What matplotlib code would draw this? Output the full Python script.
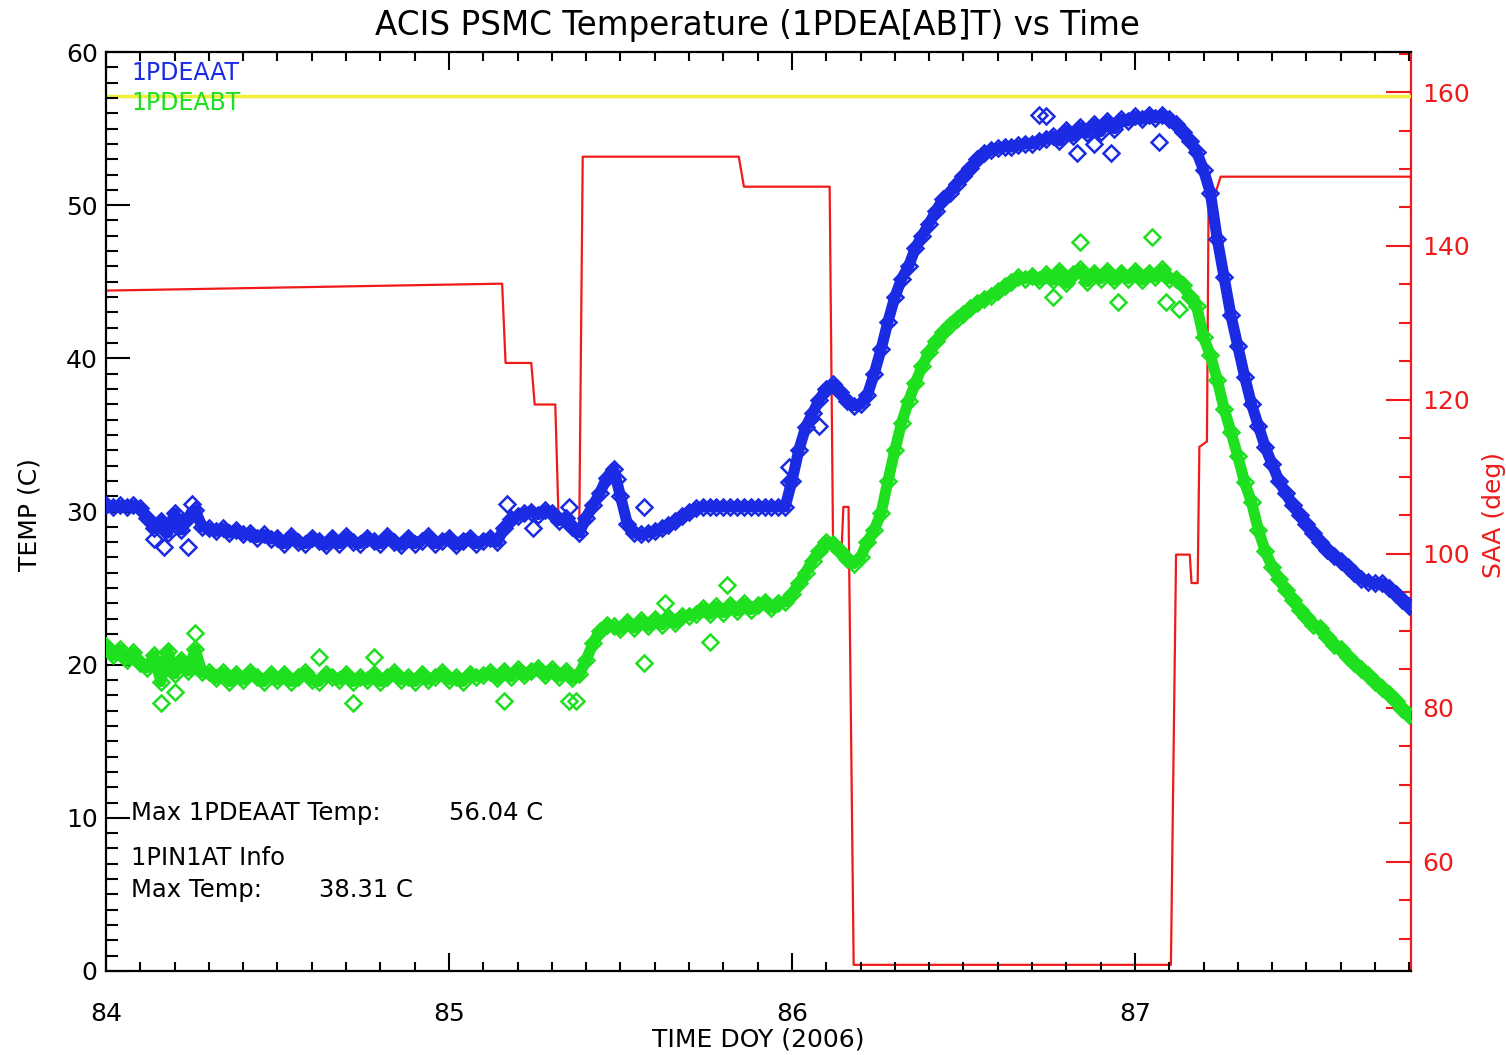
import numpy as np
import matplotlib
matplotlib.use('Agg')
import matplotlib.pyplot as plt
from matplotlib.ticker import MultipleLocator

# sample times (DOY 2006), every 0.02 day
doy = np.round(np.arange(84.0, 87.801, 0.02), 2)

# 1PDEAAT temperature (C)
pdeaat = [
    30.4, 30.3, 30.4, 30.3, 30.4, 30.2,                              # 84.00
    29.6, 28.9, 29.4, 28.6, 29.9, 28.8, 29.6, 30.1, 29.0,            # 84.12
    28.9, 28.7, 28.9, 28.6, 28.8, 28.5, 28.6, 28.3, 28.5, 28.2,      # 84.30
    28.3, 27.9, 28.4, 28.0, 27.9, 28.3, 28.1, 27.8, 28.3, 27.9,      # 84.50
    28.4, 28.0, 27.9, 28.3, 28.1, 27.9, 28.4, 28.0, 27.8, 28.3,
    27.9, 28.1, 28.4, 27.9, 28.1, 28.3, 27.8, 28.1, 28.3, 27.9,
    28.1, 28.3, 28.0,
    28.9, 29.5, 29.7, 29.9, 30.0, 29.8, 30.1, 29.9,                  # 85.16
    29.4, 29.6, 29.0, 28.6,                                          # 85.32
    29.6, 30.4, 31.2, 32.2, 32.8,                                    # 85.40
    31.0, 29.2, 28.6,                                                # 85.50
    28.5, 28.6, 28.7, 28.9, 29.1, 29.4, 29.7, 30.0, 30.2,            # 85.56
    30.3, 30.3, 30.3, 30.3, 30.3, 30.3, 30.3, 30.3, 30.3, 30.3,      # 85.74
    30.3, 30.3, 30.3,
    32.0, 34.0, 35.5, 36.4, 37.3, 38.0, 38.3, 37.8,                  # 86.00
    37.2, 36.9, 37.0, 37.6,                                          # 86.16
    39.0, 40.6, 42.4, 44.0, 45.2, 46.0, 47.2, 48.0, 48.8,            # 86.24
    49.6, 50.4, 50.8, 51.4, 51.9, 52.4, 53.0, 53.4,                  # 86.42
    53.6, 53.7, 53.8, 53.8, 53.9, 54.0, 54.0, 54.2, 54.3,            # 86.58
    54.5, 54.2, 54.9, 54.5, 55.1, 54.7, 55.3, 54.8, 55.5, 55.0,      # 86.76
    55.6, 55.5,
    55.8, 55.6, 55.9, 55.7, 55.9, 55.6,                              # 87.00
    55.3, 54.8, 54.2, 53.5, 52.3, 50.8, 47.8, 45.3,                  # 87.12
    42.8, 40.8, 38.8, 37.0, 35.6, 34.2, 33.1,                        # 87.28
    32.0, 31.2, 30.4, 29.8, 29.2, 28.6, 28.0, 27.5, 27.1,            # 87.42
    26.8, 26.4, 26.0, 25.6, 25.4, 25.3, 25.3, 25.0, 24.6, 24.2,      # 87.60
    23.8,
]

# 1PDEABT temperature (C)
pdeabt = [
    21.2, 20.6, 21.0, 20.3, 20.8, 20.1,                              # 84.00
    19.8, 20.6, 18.9, 20.9, 19.4, 20.3, 19.6, 21.0, 19.5,            # 84.12
    19.5, 19.1, 19.5, 18.9, 19.4, 19.0, 19.5, 19.2, 18.9, 19.4,      # 84.30
    19.0, 19.4, 18.9, 19.2, 19.5, 19.0, 18.9, 19.4, 19.2, 19.0,      # 84.50
    19.4, 18.9, 19.2, 19.0, 19.4, 18.9, 19.2, 19.5, 19.0, 19.2,      # 84.70
    18.9, 19.4, 19.0, 19.2, 19.5, 19.0, 19.2, 18.9, 19.4, 19.2,      # 84.90
    19.3, 19.5, 19.1, 19.6, 19.2, 19.7, 19.3, 19.6, 19.8, 19.3,      # 85.10
    19.7, 19.2, 19.6, 19.1, 19.4,                                    # 85.30
    20.3, 21.4, 22.2, 22.6, 22.5,                                    # 85.40
    22.3, 22.8, 22.4, 22.9, 22.5, 23.0, 22.6, 23.1, 22.7, 23.2,      # 85.50
    23.2,
    23.3, 23.7, 23.3, 23.8, 23.4, 23.9, 23.5, 24.0, 23.6, 23.9,      # 85.72
    24.1, 23.7, 24.0, 24.1,
    24.6, 25.3, 26.0, 26.8, 27.4, 28.0, 27.9, 27.4,                  # 86.00
    26.9, 26.6, 27.0, 28.0,                                          # 86.16
    28.8, 29.9, 32.0, 34.0, 35.8, 37.2, 38.4, 39.5, 40.4,            # 86.24
    41.1, 41.7, 42.2, 42.6, 42.9, 43.3, 43.6, 43.9,                  # 86.42
    44.1, 44.4, 44.7, 45.0, 45.3, 45.2, 45.4, 45.1, 45.5,            # 86.58
    45.1, 45.7, 44.9, 45.5, 45.8, 45.0, 45.6, 45.2, 45.7, 45.1,      # 86.76
    45.6, 45.2,
    45.7, 45.1, 45.6, 45.3, 45.8, 45.2,                              # 87.00
    45.2, 44.8, 44.0, 43.4, 41.4, 40.2, 38.6, 36.7,                  # 87.12
    35.2, 33.6, 31.9, 30.6, 28.8, 27.4, 26.4,                        # 87.28
    25.6, 24.9, 24.2, 23.6, 23.1, 22.6, 22.4, 21.8, 21.3,            # 87.42
    21.0, 20.5, 20.1, 19.7, 19.3, 18.9, 18.5, 18.1, 17.6, 17.1,      # 87.60
    16.7,
]

# scattered single readings away from the main bands
a_out_doy = [84.14, 84.17, 84.24, 84.25, 85.17, 85.245, 85.35, 85.49, 85.57,
             85.99, 85.99, 86.08, 86.72, 86.74, 86.83, 86.88, 86.93, 87.07]
a_out_temp = [28.2, 27.7, 27.7, 30.5, 30.5, 28.9, 30.3, 32.1, 30.3,
              31.9, 32.9, 35.6, 55.9, 55.8, 53.4, 54.0, 53.4, 54.1]
b_out_doy = [84.16, 84.20, 84.26, 84.62, 84.72, 84.78, 85.16, 85.35, 85.37,
             85.57, 85.63, 85.76, 85.81, 86.76, 86.84, 86.95, 87.05, 87.09, 87.13]
b_out_temp = [17.5, 18.2, 22.1, 20.5, 17.5, 20.5, 17.6, 17.6, 17.6,
              20.1, 24.0, 21.5, 25.2, 44.0, 47.6, 43.7, 47.9, 43.7, 43.2]

# sun angle (SAA, deg) step line vertices
saa_doy = [84.00, 85.155, 85.165, 85.24, 85.25, 85.31, 85.32, 85.38, 85.39,
           85.845, 85.86, 86.11, 86.12, 86.145, 86.15, 86.165, 86.18, 87.105,
           87.12, 87.16, 87.165, 87.183, 87.188, 87.21, 87.215, 87.235, 87.25, 87.80]
saa_deg = [134.2, 135.1, 124.8, 124.8, 119.4, 119.4, 103.8, 103.8, 151.6,
           151.6, 147.7, 147.7, 100.9, 100.9, 106.1, 106.1, 46.6, 46.6,
           99.9, 99.9, 96.2, 96.2, 113.9, 114.6, 146.9, 146.9, 149.0, 149.0]

yellow_limit = 57.1
max_a = 56.04
max_pin = 38.31

BLUE = '#1a2be3'
GREEN = '#1fe01f'
RED = '#f01a1a'
YELLOW = '#f2ee3a'

fig = plt.figure(figsize=(15.06, 10.55), dpi=100)
ax = fig.add_axes([106 / 1506, 1 - 971 / 1055, 1305 / 1506, 919 / 1055])
ax2 = ax.twinx()

ax.set_xlim(84.0, 87.805)
ax.set_ylim(0, 60)
ax2.set_ylim(45.8, 165.2)

ax.axhline(yellow_limit, color=YELLOW, lw=2.5, zorder=1)

ax2.plot(saa_doy, saa_deg, color=RED, lw=1.6, zorder=2)

for vals, od, ot, col in [(pdeaat, a_out_doy, a_out_temp, BLUE),
                          (pdeabt, b_out_doy, b_out_temp, GREEN)]:
    ax.plot(doy, vals, '-', color=col, lw=8, zorder=3, solid_joinstyle='round')
    ax.plot(doy, vals, 'D', mfc='none', mec=col, ms=8.5, mew=1.8, zorder=3)
    ax.plot(od, ot, 'D', mfc='none', mec=col, ms=8.5, mew=1.8, zorder=3)

ax.set_zorder(ax2.get_zorder() + 1)
ax.patch.set_visible(False)

# axis styling
for sp in ['left', 'bottom', 'top']:
    ax.spines[sp].set_linewidth(1.6)
ax.spines['right'].set_visible(False)
for sp in ['left', 'bottom', 'top']:
    ax2.spines[sp].set_visible(False)
ax2.spines['right'].set_color(RED)
ax2.spines['right'].set_linewidth(1.6)

ax.xaxis.set_major_locator(MultipleLocator(1))
ax.xaxis.set_minor_locator(MultipleLocator(0.1))
ax.yaxis.set_major_locator(MultipleLocator(10))
ax.yaxis.set_minor_locator(MultipleLocator(1))
ax2.yaxis.set_major_locator(MultipleLocator(20))
ax2.yaxis.set_minor_locator(MultipleLocator(5))

ax.tick_params(axis='x', which='both', direction='in', top=True, bottom=True,
               width=1.5, labelsize=18, pad=22)
ax.tick_params(axis='x', which='major', length=13)
ax.tick_params(axis='x', which='minor', length=6.5)
ax.tick_params(axis='y', which='both', direction='in', left=True, right=False,
               width=1.5, labelsize=18, pad=6)
ax.tick_params(axis='y', which='major', length=17)
ax.tick_params(axis='y', which='minor', length=8.5)
ax2.tick_params(axis='y', which='both', direction='in', colors=RED,
                width=1.5, labelsize=18, pad=8)
ax2.tick_params(axis='y', which='major', length=18)
ax2.tick_params(axis='y', which='minor', length=9)

# legend-like labels
ax.text(84.075, 58.6, '1PDEAAT', color=BLUE, fontsize=17, va='center', ha='left')
ax.text(84.075, 56.7, '1PDEABT', color=GREEN, fontsize=17, va='center', ha='left')

# info text
ax.text(84.072, 10.3, 'Max 1PDEAAT Temp:', fontsize=17.5, va='center', ha='left')
ax.text(85.0, 10.3, f'{max_a:.2f} C', fontsize=17.5, va='center', ha='left')
ax.text(84.072, 7.4, '1PIN1AT Info', fontsize=17.5, va='center', ha='left')
ax.text(84.072, 5.3, 'Max Temp:', fontsize=17.5, va='center', ha='left')
ax.text(84.62, 5.3, f'{max_pin:.2f} C', fontsize=17.5, va='center', ha='left')

fig.text(757 / 1506, 1 - 25 / 1055, 'ACIS PSMC Temperature (1PDEA[AB]T) vs Time',
         fontsize=23.5, ha='center', va='center')
fig.text(758 / 1506, 1 - 1040 / 1055, 'TIME DOY (2006)', fontsize=18,
         ha='center', va='center')
fig.text(30 / 1506, 1 - 515 / 1055, 'TEMP (C)', fontsize=18, rotation=90,
         ha='center', va='center')
fig.text(1494 / 1506, 1 - 515 / 1055, 'SAA (deg)', fontsize=18, rotation=90,
         ha='center', va='center', color=RED)

fig.savefig('out.png', dpi=100)
